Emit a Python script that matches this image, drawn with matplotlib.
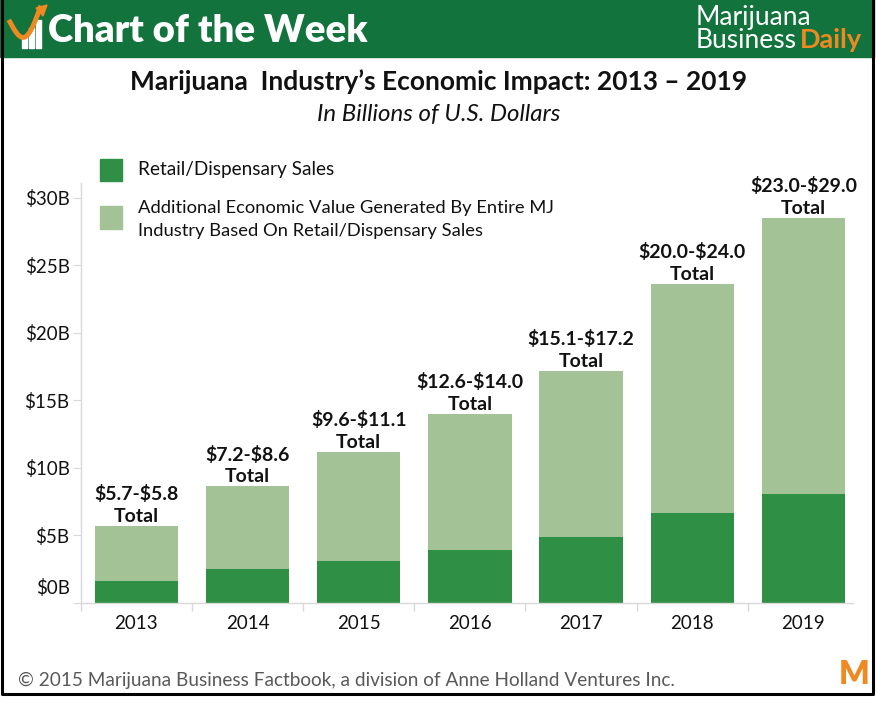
import matplotlib
matplotlib.use("Agg")
import matplotlib.pyplot as plt
import matplotlib.patches as mpatches
from matplotlib.lines import Line2D
import numpy as np

# ---- data (billions USD) ----
years = ["2013", "2014", "2015", "2016", "2017", "2018", "2019"]
retail = [1.6, 2.48, 3.07, 3.89, 4.87, 6.63, 8.04]
total = [5.67, 8.6, 11.15, 13.96, 17.15, 23.6, 28.5]
range_labels = ["$5.7-$5.8", "$7.2-$8.6", "$9.6-$11.1", "$12.6-$14.0",
                "$15.1-$17.2", "$20.0-$24.0", "$23.0-$29.0"]
ytick_vals = [0, 5, 10, 15, 20, 25, 30]
ytick_text = ["$0B", "$5B", "$10B", "$15B", "$20B", "$25B", "$30B"]

# ---- style ----
HEADER = "#13733d"
DARK = "#2e8f45"
LIGHT = "#a3c295"
ORANGE = "#ef8a22"
GRID = "#d9d9d9"
INK = "#111111"
FOOT = "#595959"
plt.rcParams["font.family"] = ["Lato", "DejaVu Sans"]
plt.rcParams["text.parse_math"] = False

W, H = 877, 704


def fx(x):
    return x / W


def fy(y):
    return 1 - y / H


fig = plt.figure(figsize=(W / 100, H / 100), dpi=100)
fig.patch.set_facecolor("white")

# header band
fig.patches.append(mpatches.Rectangle((0, fy(57)), fx(874), 57 / H,
                                      transform=fig.transFigure,
                                      color=HEADER, zorder=0))
# frame
frame = Line2D([fx(1.5), fx(1.5), fx(872.5), fx(872.5)],
               [fy(0), fy(693.5), fy(693.5), fy(0)],
               transform=fig.transFigure, color="black", lw=2.2)
fig.lines.append(frame)

# header icon: white bars + orange swoosh
for bx, by in [(22, 36), (29, 28), (36, 20)]:
    fig.patches.append(mpatches.Rectangle((fx(bx), fy(48)), fx(5), (48 - by) / H,
                                          transform=fig.transFigure,
                                          color="white", zorder=2))
t = np.linspace(0, 1, 30)
sx = 10 + 30 * t
sy = 22 + 22 * np.sin(np.pi * t) - 14 * t
fig.lines.append(Line2D(fx(sx), fy(sy), transform=fig.transFigure,
                        color=ORANGE, lw=3.5, zorder=3))
fig.patches.append(mpatches.Polygon([(fx(36), fy(8)), (fx(47), fy(5)), (fx(43), fy(16))],
                                    closed=True, transform=fig.transFigure,
                                    color=ORANGE, zorder=3))

fig.text(fx(48), fy(31), "Chart of the Week", color="white", fontsize=27.5,
         fontweight="heavy", ha="left", va="center")
fig.text(fx(696), fy(17), "Marijuana", color="white", fontsize=19,
         ha="left", va="center")
fig.text(fx(696), fy(40), "Business", color="white", fontsize=19,
         ha="left", va="center")
fig.text(fx(800), fy(40), "Daily", color=ORANGE, fontsize=19.5,
         fontweight="bold", ha="left", va="center")

# titles
fig.text(0.5, fy(82), "Marijuana  Industry\u2019s Economic Impact: 2013 \u2013 2019",
         color=INK, fontsize=19, fontweight="bold", ha="center", va="center")
fig.text(0.5, fy(114), "In Billions of U.S. Dollars", color=INK, fontsize=17.3,
         style="italic", ha="center", va="center")

# legend
fig.patches.append(mpatches.Rectangle((fx(100), fy(181)), fx(22), 22 / H,
                                      transform=fig.transFigure, color=DARK))
fig.patches.append(mpatches.Rectangle((fx(100), fy(229)), fx(22), 23 / H,
                                      transform=fig.transFigure, color=LIGHT))
fig.text(fx(138), fy(170), "Retail/Dispensary Sales", color=INK, fontsize=13.7,
         ha="left", va="center")
fig.text(fx(138), fy(208), "Additional Economic Value Generated By Entire MJ",
         color=INK, fontsize=13.2, ha="left", va="center")
fig.text(fx(138), fy(231), "Industry Based On Retail/Dispensary Sales",
         color=INK, fontsize=13.2, ha="left", va="center")

# ---- chart ----
ax = fig.add_axes([fx(80.7), fy(602.5), fx(859) - fx(80.7), (602.5 - 183) / H])
ax.set_facecolor("none")
x = np.arange(len(years))
extra = [t_ - r for t_, r in zip(total, retail)]
ax.bar(x, retail, width=0.75, color=DARK, zorder=2)
ax.bar(x, extra, bottom=retail, width=0.75, color=LIGHT, zorder=2)

for i in range(len(years)):
    ax.annotate(range_labels[i] + "\nTotal", (x[i], total[i]),
                xytext=(0, 1), textcoords="offset points",
                ha="center", va="bottom", fontsize=14, fontweight="bold",
                color=INK, linespacing=1.32)

ax.set_xlim(-0.5, 6.5)
ax.set_ylim(0, 31.1)
for s in ["top", "right"]:
    ax.spines[s].set_visible(False)
for s in ["left", "bottom"]:
    ax.spines[s].set_color(GRID)
    ax.spines[s].set_linewidth(1)
ax.spines["bottom"].set_bounds(-0.5, 6.45)

ax.set_yticks(ytick_vals)
ax.set_yticklabels([""] + ytick_text[1:])
ax.tick_params(axis="y", length=6, color=GRID, pad=2, labelsize=13.5,
               labelcolor=INK)
# the $0B label sits a little above the baseline in the original
ax.annotate(ytick_text[0], (0, 0), xycoords=("axes fraction", "data"),
            xytext=(-11, 14), textcoords="offset pixels",
            ha="right", va="center", fontsize=13.5, color=INK)

ax.set_xticks(x)
ax.set_xticklabels(years)
ax.tick_params(axis="x", length=0, pad=9, labelsize=13.5, labelcolor=INK)
ax.set_xticks(np.arange(-0.5, 6, 1), minor=True)
ax.tick_params(axis="x", which="minor", length=6, color=GRID, width=1)

# footer
fig.text(fx(18), fy(680),
         "\u00a9 2015 Marijuana Business Factbook, a division of Anne Holland Ventures Inc.",
         color=FOOT, fontsize=13.7, ha="left", va="center")
fig.text(fx(854), fy(674), "M", color=ORANGE, fontsize=23, fontweight="heavy",
         ha="center", va="center")

fig.savefig("out.png", dpi=100, facecolor="white")
